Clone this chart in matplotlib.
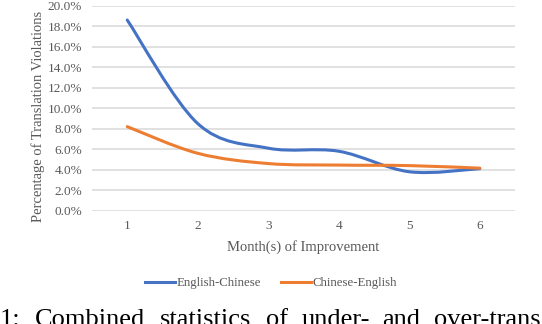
import numpy as np
import matplotlib
matplotlib.use('Agg')
import matplotlib.pyplot as plt
from matplotlib.path import Path
from matplotlib.patches import PathPatch
from matplotlib.lines import Line2D
from matplotlib.ticker import FuncFormatter

#%% Data (percent)

months = [1, 2, 3, 4, 5, 6]
en_zh = [18.6, 8.5, 6.1, 5.8, 3.8, 4.1]
zh_en = [8.2, 5.6, 4.6, 4.45, 4.4, 4.15]
series_names = ['English-Chinese', 'Chinese-English']
colors = ['#4472C4', '#ED7D31']

caption_words = ['1:', 'Combined', 'statistics', 'of', 'under-', 'and', 'over-trans']
caption_x = [0, 35, 160, 266, 302, 382, 434]

plt.rcParams['font.family'] = ['Liberation Serif', 'DejaVu Serif']
grey = '#595959'


def smooth_path(x, y):
    # Excel-style smoothed line: cubic Bezier through each point
    x = np.asarray(x, float)
    y = np.asarray(y, float)
    n = len(x)
    verts = [(x[0], y[0])]
    codes = [Path.MOVETO]
    for i in range(n - 1):
        p = max(i - 1, 0)
        q = min(i + 2, n - 1)
        c1 = (x[i] + (x[i + 1] - x[p]) / 6, y[i] + (y[i + 1] - y[p]) / 6)
        c2 = (x[i + 1] - (x[q] - x[i]) / 6, y[i + 1] - (y[q] - y[i]) / 6)
        verts += [c1, c2, (x[i + 1], y[i + 1])]
        codes += [Path.CURVE4] * 3
    return Path(verts, codes)


#%% Plot

fig = plt.figure(figsize=(5.42, 3.24), dpi=100)
ax = fig.add_axes([92 / 542, 1 - 210.7 / 324, 423 / 542, 205 / 324])

for vals, c in zip([en_zh, zh_en], colors):
    ax.add_patch(PathPatch(smooth_path(months, vals), facecolor='none',
                           edgecolor=c, lw=2.2, capstyle='round', zorder=3))

ax.set_xlim(0.5, 6.5)
ax.set_ylim(0, 20)
ax.set_xticks(months)
ax.set_yticks(np.arange(0, 20.1, 2))
ax.yaxis.set_major_formatter(FuncFormatter(lambda v, p: '%.1f%%' % v))
ax.grid(axis='y', color='#D9D9D9', lw=1.1)
ax.set_axisbelow(True)
for s in ax.spines.values():
    s.set_visible(False)
ax.tick_params(length=0, labelsize=9.5, labelcolor=grey, pad=7)

ax.set_xlabel('Month(s) of Improvement', fontsize=10.5, color=grey)
ax.xaxis.set_label_coords(0.5, -0.143)
ax.set_ylabel('Percentage of Translation Violations', fontsize=10.5, color=grey)
ax.yaxis.set_label_coords(-0.111, 0.46)

handles = [Line2D([], [], color=c, lw=2.2) for c in colors]
leg = fig.legend(handles, series_names, loc='center', bbox_to_anchor=(0.5, 1 - 283 / 324),
                 ncol=2, frameon=False, fontsize=9.3, handlelength=2.3,
                 handletextpad=0.1, columnspacing=1.6)
for t in leg.get_texts():
    t.set_color(grey)

for w, px in zip(caption_words, caption_x):
    fig.text(px / 542, -1.5 / 324, w, fontsize=19, va='baseline', ha='left')

plt.savefig('out.png', dpi=100)
